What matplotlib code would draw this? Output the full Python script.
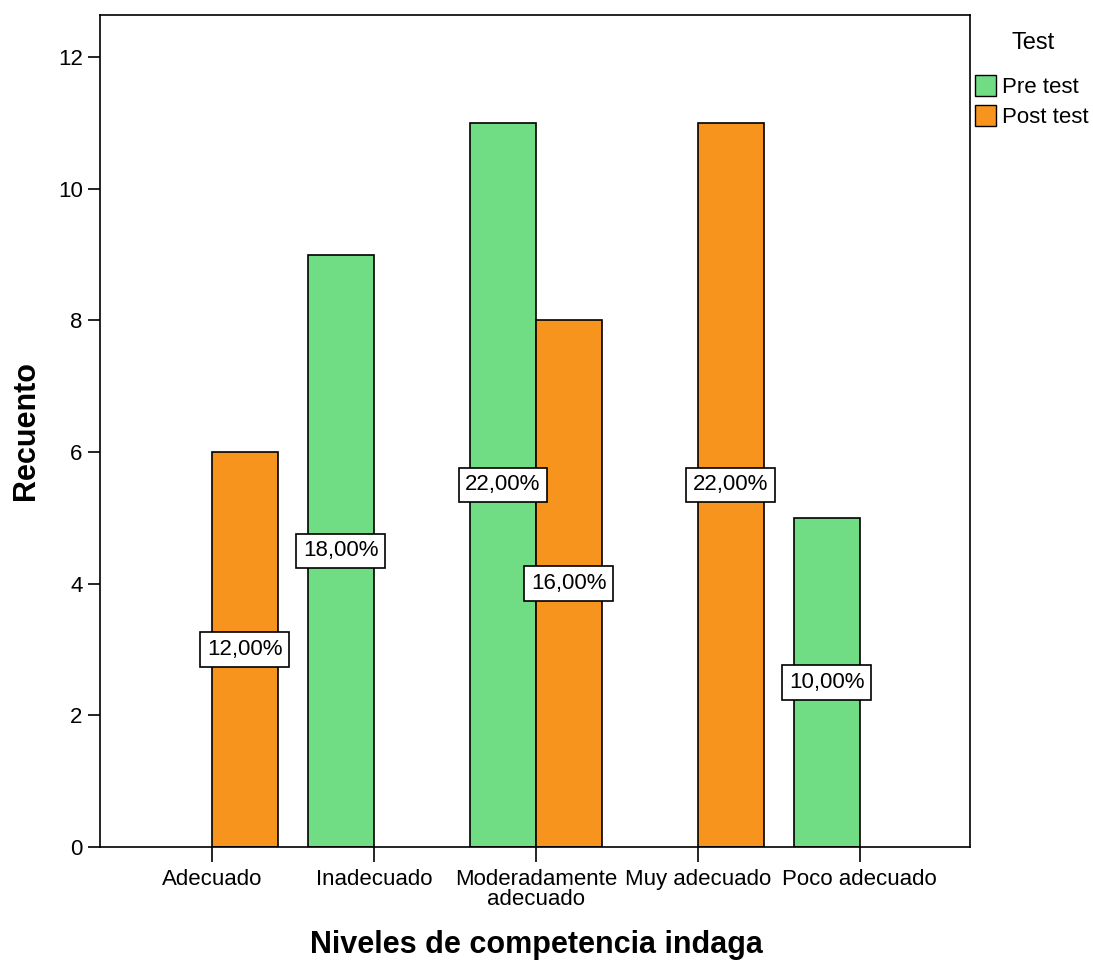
import numpy as np
import matplotlib
matplotlib.use("Agg")
import matplotlib.pyplot as plt
from matplotlib.patches import Patch

plt.rcParams['font.family'] = ['Liberation Sans', 'DejaVu Sans']

categorias = ['Adecuado', 'Inadecuado', 'Moderadamente\nadecuado', 'Muy adecuado', 'Poco adecuado']
pre_test = [0, 9, 11, 0, 5]
post_test = [6, 0, 8, 11, 0]
pre_pct = ['', '18,00%', '22,00%', '', '10,00%']
post_pct = ['12,00%', '', '16,00%', '22,00%', '']

verde = '#70dc84'
naranja = '#f7941e'

fig = plt.figure(figsize=(10.93, 9.63), dpi=100)
ax = fig.add_axes([0.0915, 0.1205, 0.796, 0.864])

x = np.arange(len(categorias))
w = 0.407
box = dict(boxstyle='square,pad=0.3', fc='white', ec='black', lw=1.2)

for i in range(len(categorias)):
    if pre_test[i] > 0:
        ax.bar(x[i] - w / 2, pre_test[i], w, color=verde, edgecolor='black', linewidth=1.2)
        ax.text(x[i] - w / 2, pre_test[i] / 2, pre_pct[i], ha='center', va='center',
                fontsize=16, bbox=box)
    if post_test[i] > 0:
        ax.bar(x[i] + w / 2, post_test[i], w, color=naranja, edgecolor='black', linewidth=1.2)
        ax.text(x[i] + w / 2, post_test[i] / 2, post_pct[i], ha='center', va='center',
                fontsize=16, bbox=box)

ax.set_xlim(-0.69, 4.68)
ax.set_ylim(0, 12.64)
ax.set_yticks([0, 2, 4, 6, 8, 10, 12])
ax.set_xticks(x)
ax.set_xticklabels(categorias, fontsize=16, linespacing=0.95)
ax.tick_params(axis='y', labelsize=16, length=9, width=1.2)
ax.tick_params(axis='x', length=11, width=1.2, pad=5)
for s in ax.spines.values():
    s.set_linewidth(1.2)

ax.set_ylabel('Recuento', fontsize=22, fontweight='bold', labelpad=12)
fig.text(0.491, 1 - 945 / 963, 'Niveles de competencia indaga', fontsize=22,
         fontweight='bold', ha='center', va='center')

fig.text(1033 / 1093, 1 - 43 / 963, 'Test', fontsize=17, ha='center', va='center')
handles = [Patch(facecolor=verde, edgecolor='black', label='Pre test'),
           Patch(facecolor=naranja, edgecolor='black', label='Post test')]
fig.legend(handles=handles, loc='upper left', bbox_to_anchor=(975 / 1093, 1 - 75 / 963),
           frameon=False, fontsize=16, handlelength=0.95, handleheight=1.1,
           handletextpad=0.25, borderaxespad=0, borderpad=0, labelspacing=0.3)

fig.savefig('out.png', dpi=100)
